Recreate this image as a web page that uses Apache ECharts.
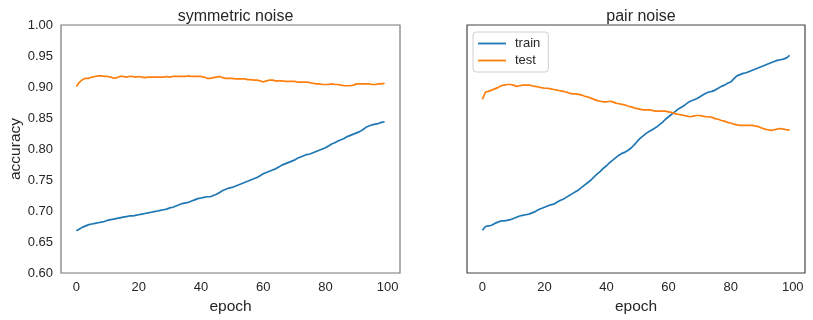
<!DOCTYPE html>
<html>
<head>
<meta charset="utf-8">
<script src="https://cdn.jsdelivr.net/npm/echarts@6/dist/echarts.min.js"></script>
<style>html,body{margin:0;padding:0;background:#fff;}#c{width:813px;height:320px;}</style>
</head>
<body>
<div id="c"></div>
<script>
const titles = ['symmetric noise', 'pair noise'];
const xTicks = [0, 20, 40, 60, 80, 100];
const symTrain = [0.668,0.671,0.674,0.676,0.678,0.679,0.680,0.681,0.682,0.683,0.685,0.686,0.687,0.688,0.689,0.690,0.691,0.692,0.692,0.693,0.694,0.695,0.696,0.697,0.698,0.699,0.700,0.701,0.702,0.703,0.705,0.706,0.708,0.710,0.712,0.713,0.714,0.716,0.718,0.720,0.721,0.722,0.723,0.723,0.725,0.727,0.730,0.733,0.735,0.737,0.738,0.740,0.742,0.744,0.746,0.748,0.750,0.752,0.754,0.757,0.760,0.762,0.764,0.766,0.768,0.771,0.774,0.776,0.778,0.780,0.782,0.785,0.787,0.789,0.791,0.792,0.794,0.796,0.798,0.800,0.802,0.805,0.808,0.810,0.813,0.815,0.817,0.820,0.822,0.824,0.826,0.828,0.831,0.835,0.837,0.839,0.840,0.841,0.843,0.844];
const symTest = [0.901,0.908,0.912,0.914,0.914,0.916,0.917,0.918,0.918,0.917,0.917,0.916,0.914,0.915,0.917,0.917,0.916,0.917,0.917,0.916,0.917,0.916,0.915,0.916,0.916,0.916,0.916,0.916,0.916,0.917,0.916,0.917,0.917,0.917,0.917,0.917,0.918,0.917,0.917,0.917,0.917,0.916,0.914,0.914,0.915,0.916,0.917,0.915,0.914,0.914,0.914,0.913,0.913,0.913,0.913,0.912,0.912,0.911,0.911,0.910,0.908,0.910,0.911,0.911,0.910,0.910,0.910,0.909,0.909,0.909,0.909,0.908,0.908,0.908,0.908,0.907,0.906,0.905,0.905,0.904,0.904,0.904,0.905,0.904,0.904,0.903,0.902,0.902,0.902,0.903,0.905,0.905,0.905,0.905,0.905,0.904,0.904,0.905,0.905,0.906];
const pairTrain = [0.669,0.675,0.676,0.677,0.680,0.682,0.684,0.684,0.685,0.686,0.688,0.690,0.692,0.693,0.694,0.695,0.697,0.699,0.702,0.704,0.706,0.708,0.710,0.711,0.714,0.717,0.719,0.722,0.725,0.728,0.731,0.734,0.738,0.742,0.746,0.750,0.755,0.760,0.764,0.769,0.773,0.778,0.782,0.786,0.790,0.793,0.795,0.798,0.802,0.807,0.813,0.818,0.822,0.826,0.829,0.832,0.835,0.839,0.843,0.848,0.852,0.856,0.860,0.864,0.867,0.870,0.874,0.877,0.879,0.881,0.884,0.887,0.890,0.892,0.893,0.895,0.898,0.901,0.903,0.906,0.908,0.913,0.918,0.920,0.922,0.923,0.925,0.927,0.929,0.931,0.933,0.935,0.937,0.939,0.941,0.943,0.944,0.945,0.947,0.951];
const pairTest = [0.880,0.892,0.893,0.895,0.897,0.899,0.902,0.903,0.904,0.904,0.903,0.901,0.902,0.903,0.903,0.903,0.902,0.901,0.900,0.899,0.898,0.898,0.897,0.896,0.895,0.894,0.893,0.892,0.890,0.889,0.889,0.888,0.887,0.885,0.884,0.882,0.880,0.878,0.877,0.876,0.876,0.877,0.876,0.874,0.873,0.872,0.871,0.869,0.868,0.866,0.865,0.864,0.863,0.863,0.863,0.862,0.861,0.861,0.861,0.861,0.860,0.859,0.857,0.856,0.855,0.854,0.853,0.852,0.853,0.854,0.854,0.853,0.852,0.852,0.851,0.849,0.848,0.846,0.845,0.843,0.842,0.840,0.839,0.838,0.838,0.838,0.838,0.838,0.837,0.836,0.834,0.832,0.831,0.830,0.831,0.832,0.833,0.832,0.831,0.831];

const FONT = 'Liberation Sans';
const TXT = '#262626';
const BLUE = '#1f77b4', ORANGE = '#ff7f0e';
const pairs = a => a.map((v, i) => [i, v]);

const chart = echarts.init(document.getElementById('c'), null, {renderer: 'canvas'});
function xAxis(idx) {
  return {
    type: 'value', gridIndex: idx, min: -4.95, max: 103.95,
    name: 'epoch', nameLocation: 'middle', nameGap: 24,
    nameTextStyle: {fontFamily: FONT, fontSize: 15.5, color: TXT},
    axisLine: {show: false}, axisTick: {show: false}, splitLine: {show: false},
    axisLabel: {customValues: xTicks, fontFamily: FONT, fontSize: 13, color: TXT, margin: 8},
  };
}
function yAxis(idx, showLabels) {
  return {
    type: 'value', gridIndex: idx, min: 0.6, max: 1.0, interval: 0.05,
    name: showLabels ? 'accuracy' : '', nameLocation: 'middle', nameGap: 37,
    nameTextStyle: {fontFamily: FONT, fontSize: 15.5, color: TXT},
    axisLine: {show: false}, axisTick: {show: false}, splitLine: {show: false},
    axisLabel: {show: showLabels, fontFamily: FONT, fontSize: 13, color: TXT, margin: 8,
      formatter: v => v.toFixed(2)},
  };
}
function line(name, data, color, idx) {
  return {
    type: 'line', name, data: pairs(data), xAxisIndex: idx, yAxisIndex: idx,
    symbol: 'none', showSymbol: false, smooth: false, animation: false,
    lineStyle: {color, width: 1.7}, itemStyle: {color},
  };
}
chart.setOption({
  animation: false,
  backgroundColor: '#fff',
  title: [
    {text: titles[0], left: 230.5, top: 4, textAlign: 'center',
     textStyle: {fontFamily: FONT, fontSize: 16, fontWeight: 'normal', color: TXT}},
    {text: titles[1], left: 636, top: 4, textAlign: 'center',
     textStyle: {fontFamily: FONT, fontSize: 16, fontWeight: 'normal', color: TXT}},
  ],
  grid: [
    {left: 61, top: 25, width: 339, height: 248, show: true, borderColor: '#777', borderWidth: 1.2, backgroundColor: '#fff'},
    {left: 467, top: 25, width: 338, height: 248, show: true, borderColor: '#444', borderWidth: 1.2, backgroundColor: '#fff'},
  ],
  xAxis: [xAxis(0), xAxis(1)],
  yAxis: [yAxis(0, true), yAxis(1, false)],
  legend: {
    data: ['train', 'test'], orient: 'vertical', left: 473, top: 32,
    icon: 'path://M0,0 H28 V1.8 H0 Z',
    itemWidth: 28, itemHeight: 14, itemGap: 4,
    padding: [5, 8, 5, 5], borderColor: '#d0d0d0', borderWidth: 1, borderRadius: 3,
    backgroundColor: 'rgba(255,255,255,0.8)',
    textStyle: {fontFamily: FONT, fontSize: 13, color: TXT, padding: [0, 0, 0, 4]},
  },
  series: [
    line('train', symTrain, BLUE, 0),
    line('test', symTest, ORANGE, 0),
    line('train', pairTrain, BLUE, 1),
    line('test', pairTest, ORANGE, 1),
  ],
});
</script>
</body>
</html>
